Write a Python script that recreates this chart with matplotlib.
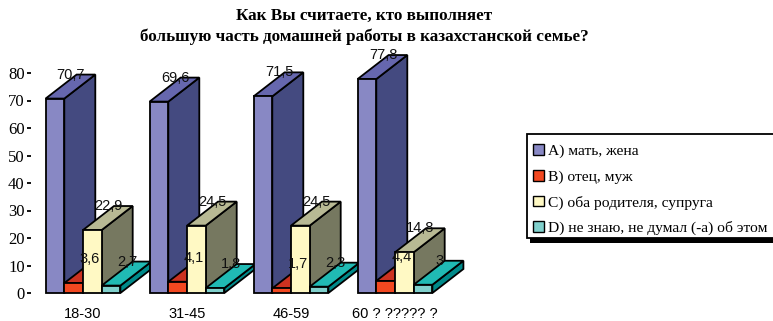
import matplotlib
matplotlib.use('Agg')
import matplotlib.pyplot as plt
from matplotlib.patches import Patch, Polygon, Rectangle

# data
categories = ["18-30", "31-45", "46-59", "60 ? ????? ?"]
series_names = ["А) мать, жена", "В) отец, муж", "С) оба родителя, супруга", "D) не знаю, не думал (-а) об этом"]
mother = [70.7, 69.6, 71.5, 77.8]
father = [3.6, 4.1, 1.7, 4.4]
both = [22.9, 24.5, 24.5, 14.8]
unknown = [2.7, 1.8, 2.3, 3]
title = "Как Вы считаете, кто выполняет\nбольшую часть домашней работы в казахстанской семье?"

all_series = [mother, father, both, unknown]
# front, top, side
colors = [
    ("#8888C4", "#6667AE", "#444A80"),
    ("#F24820", "#CC3220", "#8A2A18"),
    ("#FFF9C4", "#B8B994", "#767860"),
    ("#80D0CC", "#20BAB4", "#008A8A"),
]

W, H = 773, 321
fig = plt.figure(figsize=(W / 100, H / 100), dpi=100)
ax = fig.add_axes([31 / W, 1 - 293 / H, 416 / W, 220 / H], frameon=False)
ax.set_xlim(-0.5, 3.5)
ax.set_ylim(0, 80)

bar_w = 18.7 / 104
dx = 31 / 104      # depth in x units
dy = 24 / 2.75     # depth in y units

for g in range(len(categories)):
    for s, vals in enumerate(all_series):
        v = vals[g]
        x0 = g + (s - 2) * bar_w
        x1 = x0 + bar_w
        front, top, side = colors[s]
        kw = dict(edgecolor="black", linewidth=1.3, joinstyle="miter", clip_on=False)
        ax.add_patch(Polygon([(x1, 0), (x1 + dx, dy), (x1 + dx, v + dy), (x1, v)], facecolor=side, **kw))
        ax.add_patch(Polygon([(x0, v), (x0 + dx, v + dy), (x1 + dx, v + dy), (x1, v)], facecolor=top, **kw))
        ax.add_patch(Polygon([(x0, 0), (x1, 0), (x1, v), (x0, v)], facecolor=front, **kw))

for g in range(len(categories)):
    for s, vals in enumerate(all_series):
        v = vals[g]
        x = g + (s - 2) * bar_w + bar_w / 2 + 16 / 104
        ax.text(x, v + dy, str(v).replace(".", ","), ha="center", va="center",
                family="Liberation Sans", fontsize=10.5, color="#111111", zorder=10)

ax.spines["left"].set_visible(True)
ax.spines["left"].set_linewidth(1.3)
ax.set_yticks(range(0, 81, 10))
ax.tick_params(axis="y", length=3, width=1.3, pad=1.5)
for t in ax.get_yticklabels():
    t.set_family("Liberation Serif")
    t.set_fontsize(12)
ax.set_xticks(range(len(categories)))
ax.set_xticklabels(categories, family="Liberation Sans", fontsize=10.5)
ax.tick_params(axis="x", length=0, pad=10)

fig.text(364 / W, 1 - 26.5 / H, title, ha="center", va="center", family="Liberation Serif",
         fontweight="bold", fontsize=12.3, linespacing=1.38)

# legend box and its shadow, the frame runs off the right edge of the picture
fig.add_artist(Rectangle((530 / W, 1 - 243 / H), 250 / W, 104 / H, transform=fig.transFigure,
                         facecolor="black", edgecolor="none"))
fig.add_artist(Rectangle((527 / W, 1 - 238 / H), 250 / W, 104 / H, transform=fig.transFigure,
                         facecolor="white", edgecolor="black", linewidth=1.3))

handles = [Patch(facecolor=c[0], edgecolor="black", linewidth=1) for c in colors]
leg = fig.legend(handles, series_names, loc="upper left", bbox_to_anchor=(527 / W, 1 - 138 / H),
                 borderaxespad=0, frameon=False,
                 prop=dict(family="Liberation Serif", size=11.15), handlelength=0.7, handleheight=0.7,
                 handletextpad=0.25, labelspacing=0.75, borderpad=0.4)
leg.set_zorder(5)

fig.savefig("out.png", dpi=100)
